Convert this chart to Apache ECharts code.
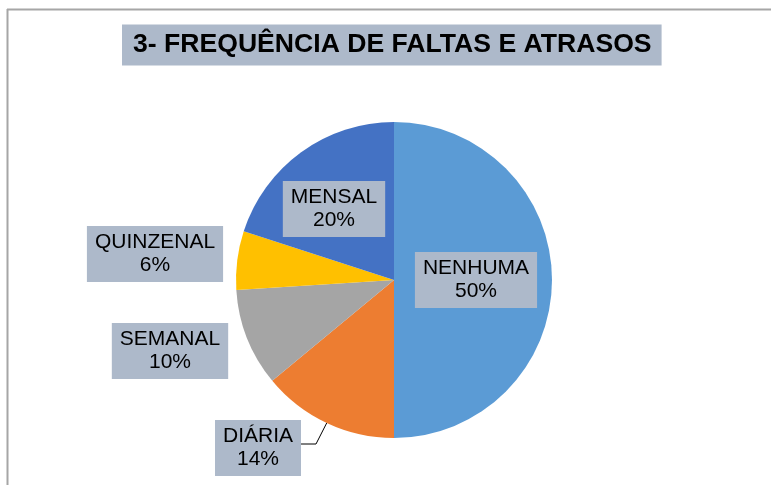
<!DOCTYPE html>
<html>
<head>
<meta charset="utf-8">
<script src="https://cdn.jsdelivr.net/npm/echarts@6/dist/echarts.min.js"></script>
<style>
  html, body { margin: 0; padding: 0; background: #fff; }
  #chart { width: 771px; height: 485px; }
</style>
</head>
<body>
<div id="chart"></div>
<script>
// dados do gráfico
const categorias = ['NENHUMA', 'DIÁRIA', 'SEMANAL', 'QUINZENAL', 'MENSAL']
const valores = [50, 14, 10, 6, 20]
const cores = ['#5B9BD5', '#ED7D31', '#A5A5A5', '#FFC000', '#4472C4']

// posição dos rótulos (centro da caixa)
const posRotulos = [[476, 280], [258, 448], [170, 351], [155, 254], [334, 209]]

let myChart = echarts.init(document.getElementById('chart'))

const cx = 394, cy = 280, raio = 158

const option = {
  animation: false,
  title: {
    text: '3- FREQUÊNCIA DE FALTAS E ATRASOS',
    left: 122,
    top: 25,
    padding: [7, 10, 7, 11],
    backgroundColor: '#ADB9CA',
    textStyle: {
      fontFamily: 'Liberation Sans, Arial, sans-serif',
      fontSize: 26.6,
      lineHeight: 26,
      fontWeight: 'bold',
      color: '#000'
    }
  },
  graphic: [
    { type: 'line', shape: { x1: 7, y1: 9.5, x2: 771, y2: 9.5 }, style: { stroke: '#a6a6a6', lineWidth: 2 } },
    { type: 'line', shape: { x1: 7.5, y1: 9, x2: 7.5, y2: 485 }, style: { stroke: '#a6a6a6', lineWidth: 2 } }
  ],
  series: [{
    type: 'pie',
    center: [cx, cy],
    radius: raio,
    startAngle: 90,
    clockwise: true,
    data: categorias.map((c, i) => ({
      name: c,
      value: valores[i],
      itemStyle: { color: cores[i] },
      labelLine: { show: i === 1 }
    })),
    itemStyle: { borderWidth: 0 },
    label: {
      show: true,
      formatter: p => p.name + '\n' + p.value + '%',
      fontFamily: 'Liberation Sans, Arial, sans-serif',
      fontSize: 21,
      lineHeight: 23,
      color: '#000',
      backgroundColor: '#ADB9CA',
      padding: [5, 8, 5, 8],
      align: 'center'
    },
    labelLine: {
      lineStyle: { color: '#000', width: 1 }
    },
    labelLayout: function (params) {
      const i = params.dataIndex
      const r = params.labelRect
      const res = {
        x: posRotulos[i][0],
        y: posRotulos[i][1],
        align: 'center',
        verticalAlign: 'middle'
      }
      if (i === 1) {
        // linha guia do rótulo DIÁRIA, do meio da fatia até a caixa
        const ang = (180 + 0.07 * 360) * Math.PI / 180
        const px = cx + raio * Math.sin(ang)
        const py = cy - raio * Math.cos(ang)
        const bx = posRotulos[i][0] + r.width / 2
        res.labelLinePoints = [[px, py], [316, 444], [bx, 444]]
      }
      return res
    }
  }]
}

myChart.setOption(option)
window.onresize = () => {
  myChart.resize()
}
</script>
</body>
</html>
